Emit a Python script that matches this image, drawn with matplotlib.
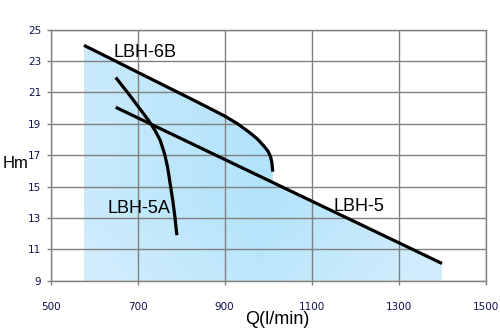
import numpy as np
import matplotlib
matplotlib.use("Agg")
import matplotlib.pyplot as plt
from matplotlib.path import Path
from matplotlib.patches import PathPatch

# Pump curves: flow Q (l/min) vs head H (m)
q_6b = [577, 650, 700, 760, 820, 860, 900, 930, 955, 975, 990, 1000, 1006, 1009, 1011]
h_6b = [24.0, 22.99, 22.29, 21.46, 20.63, 20.07, 19.5, 19.0, 18.5, 18.05, 17.6, 17.25, 16.9, 16.5, 15.95]

q_5a = [650, 679, 702, 725, 740, 752, 762, 769, 775, 781, 786, 790, 791]
h_5a = [21.95, 20.93, 20.08, 19.23, 18.59, 17.96, 17.11, 16.26, 15.2, 14.13, 13.07, 12.01, 11.9]

q_5 = [650, 1400]
h_5 = [20.05, 10.1]

curve_names = ["LBH-6B", "LBH-5A", "LBH-5"]
label_pos = [(717, 23.55), (703, 13.6), (1209, 13.7)]

x_ticks = [500, 700, 900, 1100, 1300, 1500]
y_ticks = [9, 11, 13, 15, 17, 19, 21, 23, 25]

fig = plt.figure(figsize=(5.0, 3.33), dpi=100)
ax = fig.add_axes([0.101, 0.157, 0.870, 0.754])
ax.set_xlim(500, 1500)
ax.set_ylim(9, 25)

# Shaded operating area: under LBH-6B, then under LBH-5 past the end of LBH-6B
q5_end = q_6b[-1]
h5_at_end = np.interp(q5_end, q_5, h_5)
poly_q = [q_6b[0]] + q_6b + [q5_end, q_5[-1], q_5[-1], q_6b[0]]
poly_h = [9] + h_6b + [h5_at_end, h_5[-1], 9, 9]
verts = np.column_stack([poly_q, poly_h])
clip = PathPatch(Path(verts), facecolor="none", edgecolor="none")
ax.add_patch(clip)

gx = np.linspace(500, 1500, 300)
gy = np.linspace(9, 25, 200)
GX, GY = np.meshgrid(gx, gy)
t = np.clip(1 - np.abs((GX - 980) / 430) * 0.8 - np.clip((14 - GY) / 5, 0, 1) * 0.35, 0, 1)
light = np.array([0.82, 0.93, 0.99])
deep = np.array([0.70, 0.89, 0.985])
img = light[None, None, :] * (1 - t[..., None]) + deep[None, None, :] * t[..., None]
im = ax.imshow(img, extent=(500, 1500, 9, 25), origin="lower", aspect="auto",
               interpolation="bilinear", zorder=1)
im.set_clip_path(clip)

ax.set_xticks(x_ticks)
ax.set_yticks(y_ticks)
ax.grid(True, color="#808080", linewidth=1.0, zorder=2)
ax.set_axisbelow(False)
for s in ax.spines.values():
    s.set_color("#808080")
    s.set_linewidth(1.0)
ax.tick_params(axis="both", colors="#808080", length=3, width=1.0,
               labelcolor="#101050", labelsize=7.5)
ax.tick_params(axis="x", pad=12)
ax.tick_params(axis="y", pad=3.5)

lw = 2.3
ax.plot(q_6b, h_6b, color="black", lw=lw, zorder=4, solid_capstyle="butt",
        solid_joinstyle="round")
ax.plot(q_5a, h_5a, color="black", lw=lw, zorder=4, solid_capstyle="butt",
        solid_joinstyle="round")
ax.plot(q_5, h_5, color="black", lw=lw, zorder=4, solid_capstyle="butt")

for name, (qx, hy) in zip(curve_names, label_pos):
    ax.text(qx, hy, name, fontsize=13, family="Liberation Sans",
            ha="center", va="center", zorder=5)

fig.text(0.005, 0.508, "Hm", fontsize=12, family="Liberation Sans",
         ha="left", va="center")
fig.text(0.555, 0.04, "Q(l/min)", fontsize=13, family="Liberation Sans",
         ha="center", va="center")

fig.savefig("out.png", dpi=100)
